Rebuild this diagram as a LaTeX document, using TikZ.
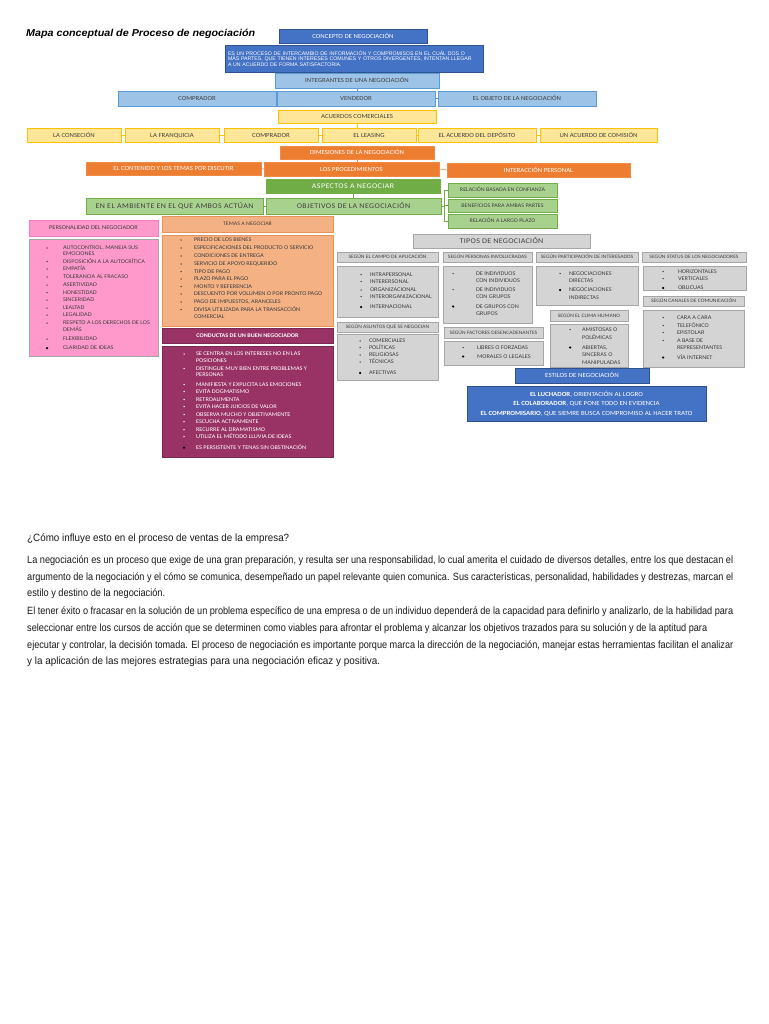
\documentclass[tikz,border=0pt]{standalone}
\usepackage{fontspec}
\usepackage{graphicx}
\setmainfont[FakeStretch=1.1]{Carlito}
\newfontfamily\arialf{Liberation Sans}
\newfontfamily\narrowf[FakeStretch=0.82]{Liberation Sans}
\usetikzlibrary{calc}
\definecolor{cDB}{HTML}{4472C4}\definecolor{cDBb}{HTML}{2F528F}
\definecolor{cLB}{HTML}{9DC3E6}\definecolor{cLBb}{HTML}{5B9BD5}
\definecolor{cY}{HTML}{FFE699}\definecolor{cYb}{HTML}{FFC000}
\definecolor{cO}{HTML}{ED7D31}\definecolor{cOb}{HTML}{F08A48}
\definecolor{cG}{HTML}{70AD47}\definecolor{cLG}{HTML}{A9D18E}
\definecolor{cP}{HTML}{FF99CC}\definecolor{cPb}{HTML}{F27DBE}
\definecolor{cS}{HTML}{F4B183}\definecolor{cSb}{HTML}{E8925A}
\definecolor{cM}{HTML}{993366}\definecolor{cMb}{HTML}{7A2952}
\definecolor{cGr}{HTML}{D4D4D4}\definecolor{cGrb}{HTML}{A6A6A6}
\definecolor{cTx}{HTML}{404040}
\newcommand\fsz[1]{\fontsize{#1}{#1}\selectfont}
\tikzset{
  bx/.style={draw, line width=0.6pt, inner sep=0pt, outer sep=0pt, anchor=north west, text height=4.1pt, text depth=0pt, font=\fsz{6.2}},
  mbx/.style={draw, line width=0.6pt, inner sep=0pt, outer sep=0pt, anchor=north west, fill=cDB, draw=cDBb, text=white},
  dblue/.style={bx, fill=cDB, draw=cDBb, text=white},
  lblue/.style={bx, fill=cLB, draw=cLBb, text=cTx},
  yel/.style={bx, fill=cY, draw=cYb, text=cTx},
  ora/.style={bx, fill=cO, draw=cOb, text=white},
  gdark/.style={bx, fill=cG, draw=cG, text=white, text height=4.7pt, font=\fsz{7.2}\addfontfeature{LetterSpace=6}},
  glight/.style={bx, fill=cLG, draw=cG, text=cTx},
  gsmall/.style={glight, text height=3.6pt, font=\fsz{5.5}},
  gbig/.style={glight, text height=4.7pt, font=\fsz{7.2}\addfontfeature{LetterSpace=6}},
  pinkt/.style={bx, fill=cP, draw=cPb, text=cTx, text height=3.8pt, font=\fsz{5.8}},
  pinkl/.style={bx, fill=cP, draw=cGrb},
  salm/.style={bx, fill=cS, draw=cSb, text=cTx, text height=3.5pt, font=\fsz{5.4}},
  maro/.style={bx, fill=cM, draw=cMb, text=white, text height=3.6pt, font=\bfseries\fsz{5.6}},
  greyh/.style={bx, fill=cGr, draw=cGrb, text=cTx, text height=3.3pt, font=\fsz{5.1}},
  greyt/.style={bx, fill=cGr, draw=cGrb, text=cTx, text height=4.7pt, font=\fsz{7.3}\addfontfeature{LetterSpace=4}},
  greyl/.style={bx, fill=cGr, draw=cGrb},
  itm/.style={anchor=west, inner sep=0pt, outer sep=0pt, text height=3.8pt, text depth=0pt, font=\fsz{5.7}},
  para/.style={anchor=base west, inner sep=0pt, text=black!90, font=\narrowf\fsz{10.5}},
  link/.style={line width=0.6pt}
}
\newcommand\blist[4]{%
  \foreach \yy/\bty/\itx in {#4}{%
    \node[itm] (#1-\yy) at (#3,\yy) {\itx};
    \ifnum\bty=1 \fill (#2,\yy) circle (0.75pt);\fi
    \ifnum\bty=2 \fill[black] (#2,\yy) circle (1.25pt);\fi
  }}
\begin{document}
\begin{tikzpicture}[x=1pt,y=-1pt]
\useasboundingbox (0,0) rectangle (768,1024);
\fill[white] (0,0) rectangle (768,1024);

% title
\node[anchor=base west, inner sep=0pt, font=\arialf\bfseries\itshape\fsz{10}] (title) at (26,37) {\resizebox{229pt}{\height}{Mapa conceptual de Proceso de negociación}};

% concept
\node[dblue, minimum width=148pt, minimum height=14pt] (concepto) at (279,29) {CONCEPTO DE NEGOCIACIÓN};
\node[mbx, minimum width=258pt, minimum height=27pt, align=left, text width=252pt, font=\arialf\fontsize{5.2}{5.6}\selectfont] (desc) at (225,45) {ES UN PROCESO DE INTERCAMBIO DE INFORMACIÓN Y COMPROMISOS EN EL CUÁL DOS O\\MÁS PARTES, QUE TIENEN INTERESES COMUNES Y OTROS DIVERGENTES, INTENTAN LLEGAR\\A UN ACUERDO DE FORMA SATISFACTORIA.};

\node[lblue, minimum width=164pt, minimum height=15pt] (integ) at (275,73) {INTEGRANTES DE UNA NEGOCIACIÓN};
\node[lblue, minimum width=158pt, minimum height=15pt] (comprador) at (118,91) {COMPRADOR};
\node[lblue, minimum width=158pt, minimum height=15pt] (vendedor) at (277,91) {VENDEDOR};
\node[lblue, minimum width=158pt, minimum height=15pt] (objeto) at (438,91) {EL OBJETO DE LA NEGOCIACIÓN};
\draw[link, cLBb] (integ.south) -- (integ.south |- vendedor.north);
\draw[link, cLBb] (comprador.east) -- (vendedor.west);
\draw[link, cLBb] (vendedor.east) -- (objeto.west);

% acuerdos
\node[yel, minimum width=158pt, minimum height=13pt] (acu) at (278,110) {ACUERDOS COMERCIALES};
\node[yel, minimum width=94pt, minimum height=14pt] (cons) at (27,128) {LA CONSECIÓN};
\node[yel, minimum width=94pt, minimum height=14pt] (fran) at (125,128) {LA FRANQUICIA};
\node[yel, minimum width=94pt, minimum height=14pt] (comp2) at (224,128) {COMPRADOR};
\node[yel, minimum width=94pt, minimum height=14pt] (leas) at (322,128) {EL LEASING};
\node[yel, minimum width=118pt, minimum height=14pt] (depo) at (418,128) {EL ACUERDO DEL DEPÓSITO};
\node[yel, minimum width=117pt, minimum height=14pt] (comi) at (540,128) {UN ACUERDO DE COMISIÓN};
\draw[link, cYb] (acu.south) -- (acu.south |- leas.north);
\draw[link, cYb] (cons.east) -- (fran.west);
\draw[link, cYb] (fran.east) -- (comp2.west);
\draw[link, cYb] (comp2.east) -- (leas.west);
\draw[link, cYb] (leas.east) -- (depo.west);
\draw[link, cYb] (depo.east) -- (comi.west);

% dimensiones
\node[ora, minimum width=154pt, minimum height=13pt] (dim) at (280,146) {DIMESIONES DE LA NEGOCIACIÓN};
\node[ora, minimum width=175pt, minimum height=13pt] (cont) at (86,162) {EL CONTENIDO Y LOS TEMAS POR DISCUTIR};
\node[ora, minimum width=175pt, minimum height=14pt] (proc) at (264,162) {LOS PROCEDIMIENTOS};
\node[ora, minimum width=183pt, minimum height=14pt] (inter) at (447,163) {INTERACCIÓN PERSONAL};
\draw[link, cOb] (dim.south) -- (dim.south |- proc.north);
\draw[link, cOb] (cont.east) -- (proc.west);
\draw[link, cOb] (proc.east) -- (inter.west);

% aspectos
\node[gdark, minimum width=174pt, minimum height=14pt] (asp) at (266,179) {ASPECTOS A NEGOCIAR};
\node[gbig, minimum width=175pt, minimum height=16pt] (obj) at (266,198) {OBJETIVOS DE LA NEGOCIACIÓN};
\node[gbig, minimum width=177pt, minimum height=16pt] (amb) at (86,198) {EN EL AMBIENTE EN EL QUE AMBOS ACTÚAN};
\node[gsmall, minimum width=109pt, minimum height=14pt] (rel1) at (448,183) {RELACIÓN BASADA EN CONFIANZA};
\node[gsmall, minimum width=109pt, minimum height=13pt] (rel2) at (448,199) {BENEFICIOS PARA AMBAS PARTES};
\node[gsmall, minimum width=109pt, minimum height=14pt] (rel3) at (448,214) {RELACIÓN A LARGO PLAZO};
\draw[link, cG] (asp.south) -- (asp.south |- obj.north);
\draw[link, cG] (amb.east) -- (obj.west);
\coordinate (objbr) at (444,206);
\draw[link, cG] (obj.east) -- (objbr);
\draw[link, cG] (objbr |- rel1.west) -- (objbr |- rel3.west);
\draw[link, cG] (objbr |- rel1.west) -- (rel1.west);
\draw[link, cG] (objbr |- rel2.west) -- (rel2.west);
\draw[link, cG] (objbr |- rel3.west) -- (rel3.west);

% personalidad
\node[pinkt, minimum width=129pt, minimum height=16pt] (perst) at (29,220) {PERSONALIDAD DEL NEGOCIADOR};
\node[pinkl, minimum width=129pt, minimum height=117pt] (persl) at (29,239) {};
\begin{scope}[text=cTx, fill=cTx]
\blist{pe}{47}{63}{248/1/{AUTOCONTROL, MANEJA SUS},253.5/0/EMOCIONES,261.5/1/DISPOSICIÓN A LA AUTOCRÍTICA,269/1/EMPATÍA,277/1/TOLERANCIA AL FRACASO,285/1/ASERTIVIDAD,292.5/1/HONESTIDAD,300/1/SINCERIDAD,308/1/LEALTAD,315/1/LEGALIDAD,323/1/RESPETO A LOS DERECHOS DE LOS,330/0/DEMÁS,339/1/FLEXIBILIDAD,348/2/CLARIDAD DE IDEAS}
\end{scope}

% temas
\node[salm, minimum width=171pt, minimum height=16pt] (temt) at (162,216) {TEMAS A NEGOCIAR};
\node[salm, minimum width=171pt, minimum height=91pt] (teml) at (162,235) {};
\begin{scope}[text=cTx, fill=cTx]
\blist{te}{181}{194}{240/1/PRECIO DE LOS BIENES,248/1/ESPECIFICACIONES DEL PRODUCTO O SERVICIO,256/1/CONDICIONES DE ENTREGA,264/1/SERVICIO DE APOYO REQUERIDO,271.5/1/TIPO DE PAGO,279/1/PLAZO PARA EL PAGO,286.5/1/MONTO Y REFERENCIA,294/1/DESCUENTO POR VOLUMEN O POR PRONTO PAGO,302/1/{PAGO DE IMPUESTOS, ARANCELES},309.5/1/DIVISA UTILIZADA PARA LA TRANSACCIÓN,317/0/COMERCIAL}
\end{scope}

% conductas
\node[maro, minimum width=171pt, minimum height=15pt] (condt) at (162,328) {CONDUCTAS DE UN BUEN NEGOCIADOR};
\node[maro, minimum width=171pt, minimum height=111pt] (condl) at (162,346) {};
\begin{scope}[text=white, fill=white]
\blist{co}{184}{196}{354/1/SE CENTRA EN LOS INTERESES NO EN LAS,360.5/0/POSICIONES,368.5/1/DISTINGUE MUY BIEN ENTRE PROBLEMAS Y,375/0/PERSONAS,384.5/1/MANIFIESTA Y EXPLICITA LAS EMOCIONES,391.5/1/EVITA DOGMATISMO,399.5/1/RETROALIMENTA,406.5/1/EVITA HACER JUICIOS DE VALOR,414.5/1/OBSERVA MUCHO Y OBJETIVAMENTE,421.5/1/ESCUCHA ACTIVAMENTE,429.5/1/RECURRE AL DRAMATISMO,436.5/1/UTILIZA EL MÉTODO LLUVIA DE IDEAS,447.5/2/ES PERSISTENTE Y TENAS SIN OBSTINACIÓN}
\end{scope}

% tipos
\node[greyt, minimum width=177pt, minimum height=14pt] (tipos) at (413,234) {TIPOS DE NEGOCIACIÓN};
\node[greyh, minimum width=101pt, minimum height=10pt] (campoh) at (337,252) {SEGÚN EL CAMPO DE APLICACIÓN};
\node[greyl, minimum width=101pt, minimum height=51pt] (campol) at (337,266) {};
\node[greyh, minimum width=89pt, minimum height=10pt] (persh) at (443,252) {SEGÚN PERSONAS INVOLUCRADAS};
\node[greyl, minimum width=89pt, minimum height=57pt] (persil) at (443,266) {};
\node[greyh, minimum width=102pt, minimum height=10pt] (parth) at (536,252) {SEGÚN PARTICIPACIÓN DE INTERESADOS};
\node[greyl, minimum width=102pt, minimum height=39pt] (partl) at (536,266) {};
\node[greyh, minimum width=104pt, minimum height=10pt] (stath) at (642,252) {SEGÚN STATUS DE LOS NEGOCIADORES};
\node[greyl, minimum width=103pt, minimum height=24pt] (statl) at (643,266) {};
\node[greyh, minimum width=101pt, minimum height=10pt] (canh) at (643,296) {SEGÚN CANALES DE COMUNICACIÓN};
\node[greyl, minimum width=101pt, minimum height=57pt] (canl) at (643,310) {};
\node[greyh, minimum width=101pt, minimum height=10pt] (asunh) at (337,322) {SEGÚN ASUNTOS QUE SE NEGOCIAN};
\node[greyl, minimum width=101pt, minimum height=46pt] (asunl) at (337,334) {};
\node[greyh, minimum width=99pt, minimum height=11pt] (facth) at (444,327) {SEGÚN FACTORES DESENCADENANTES};
\node[greyl, minimum width=99pt, minimum height=24pt] (factl) at (444,341) {};
\node[greyh, minimum width=78pt, minimum height=11pt] (climh) at (550,310) {SEGÚN EL CLIMA HUMANO};
\node[greyl, minimum width=78pt, minimum height=43pt] (climl) at (550,324) {};

\begin{scope}[text=cTx, fill=cTx]
\blist{ca}{361}{370}{274.5/1/INTRAPERSONAL,281.5/1/INTERERSONAL,290/1/ORGANIZACIONAL,296.5/1/INTERORGANIZACIONAL,307/2/INTERNACIONAL}
\blist{pi}{453}{476}{273.5/1/DE INDIVIDUOS,280.5/0/CON INDIVIDUOS,289.5/1/DE INDIVIDUOS,296.5/0/CON GRUPOS,306.5/2/DE GRUPOS CON,314/0/GRUPOS}
\blist{pa}{560}{569}{273.5/1/NEGOCIACIONES,280.5/0/DIRECTAS,290/2/NEGOCIACIONES,297.5/0/INDIRECTAS}
\begin{scope}
\clip (statl.north west) rectangle (statl.south east);
\blist{st}{663}{678}{271.5/1/HORIZONTALES,278.5/1/VERTICALES,288/2/OBLICUAS}
\end{scope}
\blist{cn}{663}{677}{317.5/1/CARA A CARA,325.5/1/TELEFÓNICO,332.5/1/EPISTOLAR,340.5/1/A BASE DE,347.5/0/REPRESENTANTES,357.5/2/VÍA INTERNET}
\blist{as}{360}{369}{341/1/COMERCIALES,347.5/1/POLÍTICAS,355/1/RELIGIOSAS,362/1/TÉCNICAS,373/2/AFECTIVAS}
\blist{fa}{463}{477}{347.5/1/LIBRES O FORZADAS,356.5/2/MORALES O LEGALES}
\begin{scope}
\clip (climl.north west) rectangle (climl.south east);
\blist{cl}{570}{582}{329.5/1/AMISTOSAS O,337.5/0/POLÉMICAS,347.5/2/{ABIERTAS,},355/0/SINCERAS O,363/0/MANIPULADAS}
\end{scope}
\end{scope}

% estilos
\node[dblue, minimum width=134pt, minimum height=15pt, text height=4.1pt, font=\fsz{6.3}] (esth) at (515,368) {ESTILOS DE NEGOCIACIÓN};
\node[mbx, minimum width=239pt, minimum height=35pt, align=center, font=\fontsize{6.3}{9.7}\selectfont] (estl) at (467,386) {\textbf{EL LUCHADOR}, ORIENTACIÓN AL LOGRO\\\textbf{EL COLABORADOR}, QUE PONE TODO EN EVIDENCIA\\\textbf{EL COMPROMISARIO}, QUE SIEMRE BUSCA COMPROMISO AL HACER TRATO};

% paragraphs
\node[para] (q) at (27,541) {\resizebox{262pt}{\height}{¿Cómo influye esto en el proceso de ventas de la empresa?}};
\node[para] (p1a) at (27,563) {\resizebox{706pt}{\height}{La negociación es un proceso que exige de una gran preparación, y resulta ser una responsabilidad, lo cual amerita el cuidado de diversos detalles, entre los que destacan el}};
\node[para] (p1b) at (27,580) {\resizebox{706pt}{\height}{argumento de la negociación y el cómo se comunica, desempeñado un papel relevante quien comunica. Sus características, personalidad, habilidades y destrezas, marcan el}};
\node[para] (p1c) at (27,596) {\resizebox{138pt}{\height}{estilo y destino de la negociación.}};
\node[para] (p2a) at (27,614) {\resizebox{706pt}{\height}{El tener éxito o fracasar en la solución de un problema específico de una empresa o de un individuo dependerá de la capacidad para definirlo y analizarlo, de la habilidad para}};
\node[para] (p2b) at (27,631) {\resizebox{680pt}{\height}{seleccionar entre los cursos de acción que se determinen como viables para afrontar el problema y alcanzar los objetivos trazados para su solución y de la aptitud para}};
\node[para] (p2c) at (27,648) {\resizebox{706pt}{\height}{ejecutar y controlar, la decisión tomada. El proceso de negociación es importante porque marca la dirección de la negociación, manejar estas herramientas facilitan el analizar}};
\node[para] (p2d) at (27,664) {\resizebox{353pt}{\height}{y la aplicación de las mejores estrategias para una negociación eficaz y positiva.}};
\end{tikzpicture}
\end{document}
